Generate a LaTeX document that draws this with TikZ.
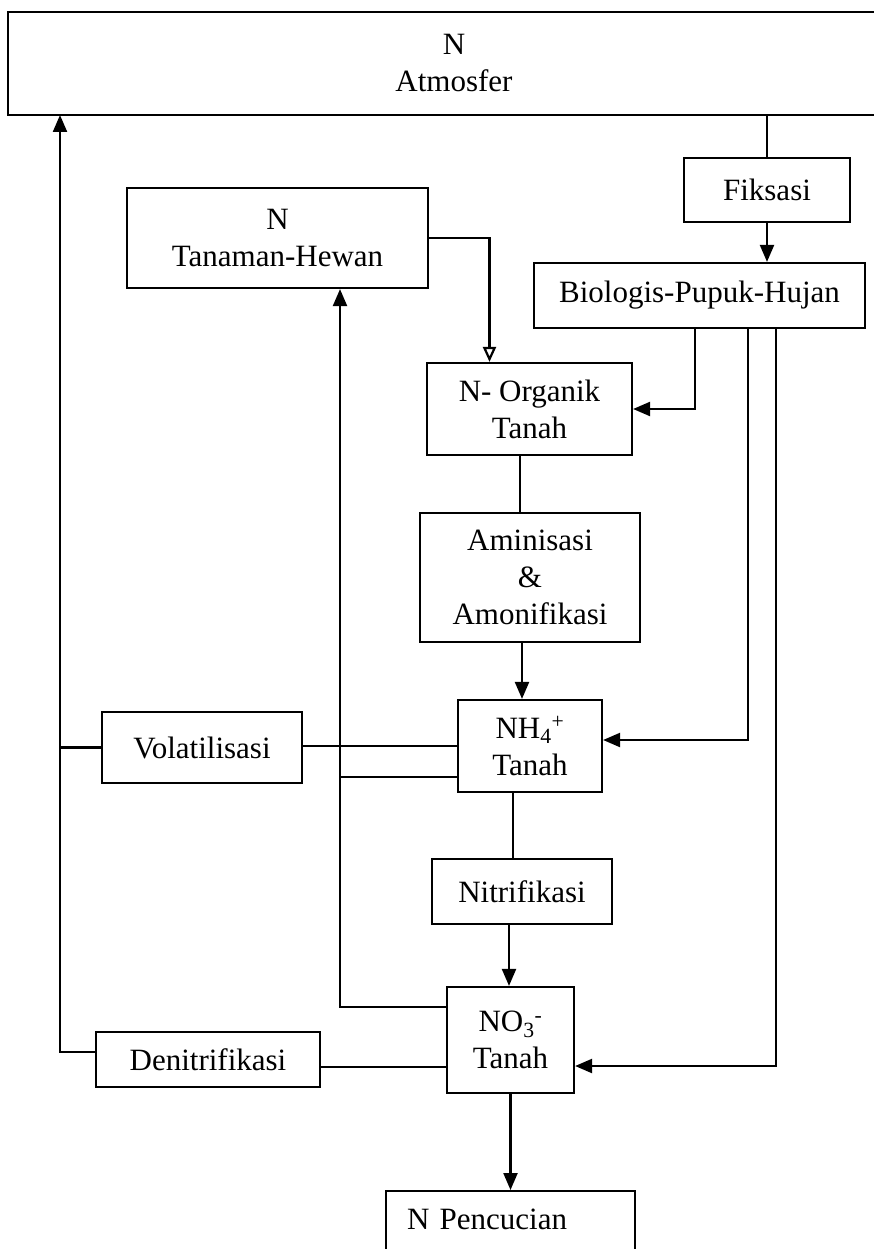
\documentclass[tikz,border=0pt]{standalone}
\usepackage{fontspec}
\setmainfont{Liberation Serif}
\usetikzlibrary{arrows.meta,positioning}
\begin{document}
\begin{tikzpicture}[x=1pt,y=-1pt,
  every node/.style={font=\fontsize{31}{37}\selectfont},
  box/.style={draw, line width=2.2pt, inner sep=0pt, align=center, fill=white},
  ln/.style={line width=2.2pt},
  arr/.style={ln, -{Triangle[length=17pt,width=14pt]}},
  oarr/.style={ln, -{Triangle[open,length=15pt,width=13pt]}}]
\useasboundingbox[fill=white] (0,0) rectangle (874,1249);
% boxes
\node[box, minimum width=892pt, minimum height=103pt] (atm) at (454,63.5) {N\\Atmosfer};
\node[box, minimum width=166pt, minimum height=64pt] (fik) at (767,190) {Fiksasi};
\node[box, minimum width=331pt, minimum height=65pt] (bio) at (699.5,295.5) {Biologis-Pupuk-Hujan};
\node[box, minimum width=301pt, minimum height=100pt] (tan) at (277.5,238) {N\\Tanaman-Hewan};
\node[box, minimum width=205pt, minimum height=92pt] (org) at (529.5,409) {N- Organik\\Tanah};
\node[box, minimum width=220pt, minimum height=129pt] (amin) at (530,577.5) {Aminisasi\\\&\\Amonifikasi};
\node[box, minimum width=144pt, minimum height=92pt] (nh4) at (530,746) {NH\textsubscript{4}\textsuperscript{+}\\Tanah};
\node[box, minimum width=200pt, minimum height=71pt] (vol) at (202,747.5) {Volatilisasi};
\node[box, minimum width=180pt, minimum height=65pt] (nit) at (522,891.5) {Nitrifikasi};
\node[box, minimum width=127pt, minimum height=106pt] (no3) at (510.5,1040) {NO\textsubscript{3}\textsuperscript{-}\\Tanah};
\node[box, minimum width=224pt, minimum height=55pt] (den) at (208,1059.5) {Denitrifikasi};
\node[box, anchor=north, inner xsep=21pt, inner ysep=0pt, text width=207pt, align=left,
      text height=38pt, text depth=62pt] (pen) at (510.5,1190) {N Pencucian};
% helper coordinates
\coordinate (lx) at (60,115);
\coordinate (mx) at ([xshift=62.5pt]tan.south);
% connectors
\draw[ln] (atm.south -| fik.north) -- (fik.north);
\draw[arr] (fik.south) -- (fik.south |- bio.north);
\draw[oarr] (tan.east) -| ([xshift=-40pt]org.north);
\draw[arr] ([xshift=-4.5pt]bio.south) |- (org.east);
\draw[arr] ([xshift=48.5pt]bio.south) |- ([yshift=6pt]nh4.east);
\draw[arr] ([xshift=76.5pt]bio.south) |- ([yshift=-26pt]no3.east);
\draw[ln] ([xshift=-9.5pt]org.south) -- ([xshift=-9.5pt]org.south |- amin.north);
\draw[arr] ([xshift=-8pt]amin.south) -- ([xshift=-8pt]amin.south |- nh4.north);
\draw[ln] ([xshift=-17pt]nh4.south) -- ([xshift=-17pt]nh4.south |- nit.north);
\draw[arr] ([xshift=-13pt]nit.south) -- ([xshift=-13pt]nit.south |- no3.north);
\draw[ln] (nh4.west) -- (nh4.west -| vol.east);
\draw[ln] (vol.west) -- (vol.west -| lx);
\draw[arr] ([yshift=7.5pt]den.west) -| (lx);
\draw[arr] ([yshift=33pt]no3.west) -| (mx);
\draw[ln] ([yshift=-31pt]nh4.west) -- ([yshift=-31pt]nh4.west -| mx);
\draw[ln] ([yshift=-27pt]no3.west) -- ([yshift=-27pt]no3.west -| den.east);
\draw[arr] (no3.south) -- (no3.south |- pen.north);
\end{tikzpicture}
\end{document}
